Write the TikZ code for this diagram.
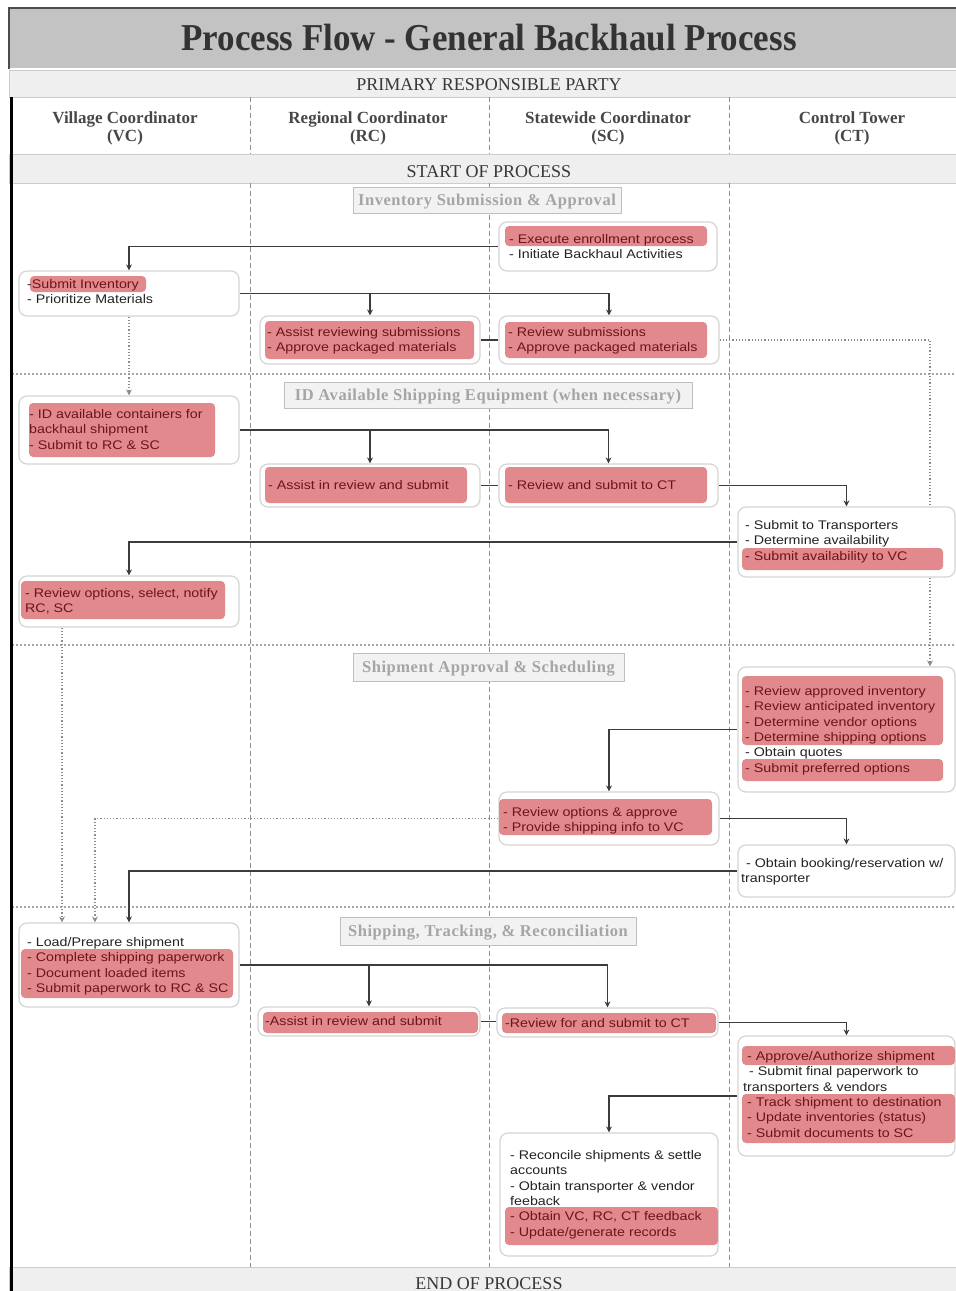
\documentclass[tikz,border=0pt]{standalone}
\usepackage{fontspec}
\setmainfont{Liberation Serif}
\newfontfamily\boxfont[FakeStretch=1.14]{Liberation Sans}
\newfontfamily\titlefont[FakeStretch=0.92]{Liberation Serif}
\newfontfamily\phasefont[LetterSpace=3.3]{Liberation Serif}
\usetikzlibrary{fit,arrows.meta}
\definecolor{hlred}{RGB}{226,137,141}
\definecolor{hltext}{RGB}{110,20,25}
\definecolor{bodytext}{RGB}{35,35,35}
\definecolor{bandgray}{RGB}{239,239,239}
\definecolor{titlegray}{RGB}{195,195,195}
\definecolor{conncol}{RGB}{60,60,60}
\definecolor{phasetext}{RGB}{165,165,165}
\pgfdeclarelayer{bg}
\pgfsetlayers{bg,main}
\newcommand\bs{\rule[-3.5pt]{0pt}{14pt}}
\newcommand\hs{\rule[-5pt]{0pt}{18pt}}
\newcommand\rl[1]{\textcolor{hltext}{#1}}
\newcommand\obx[5]{\node[obox, fit={(#2,#3) (#4,#5)}] (#1) {};}
\newcommand\hlt[4]{\fill[hlred, rounded corners=4pt] (#1,#2) rectangle (#3,#4);}
\tikzset{
 obox/.style={draw=black!17, fill=white, line width=1.2pt, rounded corners=8pt, inner sep=0pt},
 txt/.style={anchor=north west, inner sep=0pt, align=left, text=bodytext, font=\boxfont\fontsize{12.5}{15.4}\selectfont},
 conn/.style={draw=conncol, line width=1.4pt, -{Stealth[length=6pt,width=6pt]}},
 link/.style={draw=conncol, line width=1.4pt},
 dconn/.style={draw=black!45, line width=1.2pt, dotted, -{Stealth[length=6pt,width=6pt]}},
 phase/.style={draw=black!25, fill=black!5, line width=1pt, inner sep=0pt, text=phasetext, font=\phasefont\bfseries\fontsize{16.5}{18}\selectfont, text height=12pt, text depth=2pt},
 band/.style={fill=bandgray, draw=black!20, line width=0.8pt},
 coldiv/.style={draw=black!45, line width=1pt, dash pattern=on 5pt off 3pt},
 secdiv/.style={draw=black!35, line width=1.3pt, dash pattern=on 1.5pt off 2.5pt},
 colhead/.style={anchor=north, inner sep=0pt, align=center, text=black!72, font=\bfseries\fontsize{17}{18}\selectfont},
 bandtext/.style={anchor=base, inner sep=0pt, text=black!78, font=\fontsize{18}{20}\selectfont},
}
\begin{document}
\begin{tikzpicture}[x=1pt,y=-1pt]
\useasboundingbox (0,0) rectangle (956,1291);
\begin{pgfonlayer}{bg}
\fill[titlegray] (9,8) rectangle (960,68);
\draw[black!70, line width=2pt] (9,69) -- (9,8) -- (960,8);
\path[band] (9,70) rectangle (960,97);
\path[band] (9,154) rectangle (960,183);
\path[band] (9,1267) rectangle (960,1295);
\foreach \x in {250,489,729} {
  \draw[coldiv] (\x,97) -- (\x,154);
  \draw[coldiv] (\x,183) -- (\x,1267);
}
\foreach \y in {374,645,907} \draw[secdiv] (12,\y) -- (956,\y);
\draw[black, line width=3pt] (11,97) -- (11,1291);
\end{pgfonlayer}

% headers
\node[anchor=base, inner sep=0pt, text=black!80, font=\titlefont\bfseries\fontsize{38}{40}\selectfont] (title) at (489,50) {Process Flow - General Backhaul Process};
\node[bandtext] (prp) at (489,90) {PRIMARY RESPONSIBLE PARTY};
\node[colhead] (hVC) at (125,110) {\hs Village Coordinator\\\hs (VC)};
\node[colhead] (hRC) at (368,110) {\hs Regional Coordinator\\\hs (RC)};
\node[colhead] (hSC) at (608,110) {\hs Statewide Coordinator\\\hs (SC)};
\node[colhead] (hCT) at (852,110) {\hs Control Tower\\\hs (CT)};
\node[bandtext] (start) at (489,177) {START OF PROCESS};
\node[bandtext] (end) at (489,1289) {END OF PROCESS};

% phase labels
\node[phase, minimum width=268pt, minimum height=26pt] (p1) at (487,200) {Inventory Submission \& Approval};
\node[phase, minimum width=408pt, minimum height=26pt] (p2) at (488,395.5) {ID Available Shipping Equipment (when necessary)};
\node[phase, minimum width=271pt, minimum height=28pt] (p3) at (488.5,667.5) {Shipment Approval \& Scheduling};
\node[phase, minimum width=296pt, minimum height=28pt] (p4) at (488,931) {Shipping, Tracking, \& Reconciliation};

% outer boxes
\obx{A}{499}{222}{717}{271}
\obx{B}{19}{271}{239}{316}
\obx{C}{260}{316}{480}{364}
\obx{D}{499}{316}{719}{364}
\obx{E}{19}{396}{239}{464}
\obx{F}{260}{464}{480}{507}
\obx{G}{499}{464}{718}{507}
\obx{H}{738}{507}{955}{577}
\obx{I}{19}{576}{239}{627}
\obx{J}{738}{667}{955}{792}
\obx{K}{499}{792}{719}{845}
\obx{L}{738}{845}{955}{897}
\obx{M}{19}{923}{239}{1007}
\obx{N}{258}{1007}{480}{1036}
\obx{O}{497}{1008}{718}{1037}
\obx{P}{738}{1036}{955}{1156}
\obx{Q}{500}{1133}{718}{1256}

% highlights
\hlt{505}{226}{707}{246}
\hlt{30}{276}{146}{292}
\hlt{265}{321}{474}{359}
\hlt{505}{322}{707}{358}
\hlt{29}{403}{215}{457}
\hlt{265}{467}{467}{503}
\hlt{505}{467}{707}{503}
\hlt{742}{548}{943}{570}
\hlt{21}{581}{225}{619}
\hlt{742}{676}{943}{745}
\hlt{742}{759}{943}{781}
\hlt{499}{799}{712}{835}
\hlt{21}{949}{233}{998}
\hlt{263}{1012}{478}{1033}
\hlt{502}{1013}{716}{1033}
\hlt{742}{1046}{955}{1065}
\hlt{742}{1094}{955}{1143}
\hlt{505}{1207}{718}{1245}

% texts
\node[txt] (At) at (509,232.5) {\bs\rl{- Execute enrollment process}\\\bs- Initiate Backhaul Activities};
\node[txt] (Bt) at (27,277.5) {\bs-\rl{Submit Inventory}\\\bs- Prioritize Materials};
\node[txt] (Ct) at (267,325.5) {\bs\rl{- Assist reviewing submissions}\\\bs\rl{- Approve packaged materials}};
\node[txt] (Dt) at (508,325.5) {\bs\rl{- Review submissions}\\\bs\rl{- Approve packaged materials}};
\node[txt] (Et) at (29,407.5) {\bs\rl{- ID available containers for}\\\bs\rl{backhaul shipment}\\\bs\rl{- Submit to RC \& SC}};
\node[txt] (Ft) at (268,478.5) {\bs\rl{- Assist in review and submit}};
\node[txt] (Gt) at (508,478.5) {\bs\rl{- Review and submit to CT}};
\node[txt] (Ht) at (745,518.5) {\bs- Submit to Transporters\\\bs- Determine availability\\\bs\rl{- Submit availability to VC}};
\node[txt] (It) at (25,586.5) {\bs\rl{- Review options, select, notify}\\\bs\rl{RC, SC}};
\node[txt] (Jt) at (745,684.5) {\bs\rl{- Review approved inventory}\\\bs\rl{- Review anticipated inventory}\\\bs\rl{- Determine vendor options}\\\bs\rl{- Determine shipping options}\\\bs- Obtain quotes\\\bs\rl{- Submit preferred options}};
\node[txt] (Kt) at (503,805.5) {\bs\rl{- Review options \& approve}\\\bs\rl{- Provide shipping info to VC}};
\node[txt] (Lt) at (741,856.5) {\bs\hspace*{5pt}- Obtain booking/reservation w/\\\bs transporter};
\node[txt] (Mt) at (27,935.5) {\bs- Load/Prepare shipment\\\bs\rl{- Complete shipping paperwork}\\\bs\rl{- Document loaded items}\\\bs\rl{- Submit paperwork to RC \& SC}};
\node[txt] (Nt) at (265,1014.5) {\bs\rl{-Assist in review and submit}};
\node[txt] (Ot) at (505,1016.5) {\bs\rl{-Review for and submit to CT}};
\node[txt] (Pt) at (743,1049.5) {\bs\hspace*{4pt}\rl{- Approve/Authorize shipment}\\\bs\hspace*{6pt}- Submit final paperwork to\\\bs transporters \& vendors\\\bs\hspace*{4pt}\rl{- Track shipment to destination}\\\bs\hspace*{4pt}\rl{- Update inventories (status)}\\\bs\hspace*{4pt}\rl{- Submit documents to SC}};
\node[txt] (Qt) at (510,1148.5) {\bs- Reconcile shipments \& settle\\\bs accounts\\\bs- Obtain transporter \& vendor\\\bs feeback\\\bs\rl{- Obtain VC, RC, CT feedback}\\\bs\rl{- Update/generate records}};

% connectors
\coordinate (rx) at (930,0);
\coordinate (lx1) at (62,0);
\coordinate (lx2) at (95,0);
\begin{pgfonlayer}{bg}
\draw[conn] (A.west) -| (B.north);
\draw[conn] (B.east) -| (C.north);
\draw[conn] (B.east) -| (D.north);
\draw[link] (C.east) -- (D.west);
\draw[dconn] (B.south) -- (E.north);
\draw[dconn] (D.east) -| (J.north -| rx);
\draw[conn] (E.east) -| (F.north);
\draw[conn] (E.east) -| (G.north);
\draw[link] (F.east) -- (G.west);
\draw[conn] (G.east) -| (H.north);
\draw[conn] (H.west) -| (I.north);
\draw[dconn] (I.south -| lx1) -- (M.north -| lx1);
\draw[conn] (J.west) -| (K.north);
\draw[dconn] (K.west) -| (M.north -| lx2);
\draw[conn] (K.east) -| (L.north);
\draw[conn] (L.west) -| (M.north);
\draw[conn] (M.east) -| (N.north);
\draw[conn] (M.east) -| (O.north);
\draw[link] (N.east) -- (N.east -| O.west);
\draw[conn] (O.east) -| (P.north);
\draw[conn] (P.west) -| (Q.north);
\end{pgfonlayer}
\end{tikzpicture}
\end{document}
